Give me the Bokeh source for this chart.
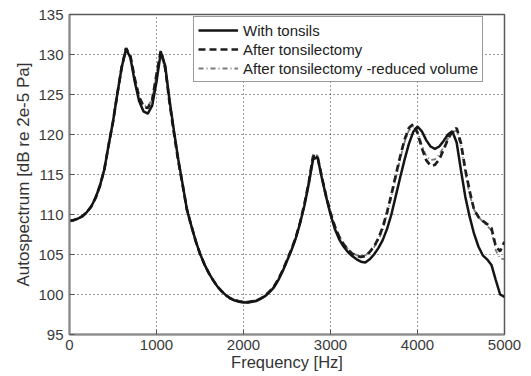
from bokeh.plotting import figure
from bokeh.models import Range1d, FixedTicker, Legend, LegendItem
from bokeh.embed import file_html
from bokeh.resources import INLINE

# ---- data ----
freq_hz = [0, 50, 100, 150, 200, 250, 300, 350, 400, 450,
           500, 550, 600, 650, 700, 750, 800, 850, 900, 950,
           1000, 1050, 1100, 1150, 1200, 1250, 1300, 1350, 1400, 1450,
           1500, 1550, 1600, 1650, 1700, 1750, 1800, 1850, 1900, 1950,
           2000, 2050, 2100, 2150, 2200, 2250, 2300, 2350, 2400, 2450,
           2500, 2550, 2600, 2650, 2700, 2750, 2800, 2850, 2900, 2950,
           3000, 3050, 3100, 3150, 3200, 3250, 3300, 3350, 3400, 3450,
           3500, 3550, 3600, 3650, 3700, 3750, 3800, 3850, 3900, 3950,
           4000, 4050, 4100, 4150, 4200, 4250, 4300, 4350, 4400, 4450,
           4500, 4550, 4600, 4650, 4700, 4750, 4800, 4850, 4900, 4950,
           5000]

with_tonsils = [109.2, 109.3, 109.5, 109.8, 110.3, 111.0, 112.1, 113.6, 115.6, 118.7,
                121.6, 125.1, 128.4, 130.7, 129.6, 126.6, 124.2, 122.9, 122.6, 123.6,
                126.6, 130.3, 128.6, 124.3, 120.5, 116.9, 113.8, 110.6, 108.6, 106.7,
                105.1, 103.8, 102.7, 101.8, 101.0, 100.4, 99.9, 99.5, 99.25, 99.1,
                99.0, 99.0, 99.1, 99.2, 99.5, 99.8, 100.3, 100.9, 101.8, 102.9,
                104.2, 105.5, 107.0, 108.9, 111.1, 113.8, 116.9, 117.2, 114.6, 112.2,
                110.0, 108.2, 106.9, 106.0, 105.3, 104.8, 104.4, 104.1, 104.0, 104.4,
                105.0, 105.8, 106.8, 108.2, 110.0, 112.3, 114.6, 116.8, 118.8, 120.3,
                121.0, 120.4, 119.3, 118.5, 118.2, 118.5, 119.2, 120.0, 120.4, 119.0,
                115.5, 112.2, 109.7, 107.6, 106.0, 104.9, 104.4, 103.7, 101.8, 100.0,
                99.7]

after_tonsillectomy = [109.2, 109.3, 109.5, 109.8, 110.3, 111.0, 112.1, 113.6, 115.6, 118.7,
                       121.6, 125.1, 128.4, 130.8, 129.8, 127.0, 124.7, 123.5, 123.3, 124.3,
                       127.5, 130.5, 128.3, 124.0, 120.2, 116.7, 113.7, 110.6, 108.6, 106.7,
                       105.1, 103.8, 102.7, 101.8, 101.0, 100.4, 99.9, 99.5, 99.3, 99.15,
                       99.05, 99.05, 99.15, 99.25, 99.5, 99.85, 100.4, 101.0, 101.9, 103.0,
                       104.3, 105.6, 107.1, 109.0, 111.3, 114.0, 117.3, 117.3, 114.7, 112.3,
                       110.2, 108.5, 107.2, 106.3, 105.6, 105.1, 104.8, 104.7, 104.8, 105.3,
                       106.0, 107.0, 108.4, 110.3, 112.5, 114.9, 117.2, 119.3, 120.8, 121.3,
                       120.2, 118.3, 116.8, 116.1, 116.2, 116.9, 118.1, 119.4, 120.4, 120.8,
                       118.9, 115.6, 112.9, 110.6, 109.7, 109.2, 108.8, 108.3, 106.0, 105.4,
                       106.6]

after_reduced_volume = [109.2, 109.3, 109.5, 109.8, 110.3, 111.0, 112.1, 113.6, 115.6, 118.7,
                        121.6, 125.1, 128.4, 130.6, 129.7, 127.0, 124.8, 123.7, 123.5, 124.4,
                        127.4, 130.1, 128.2, 124.0, 120.3, 116.8, 113.7, 110.6, 108.6, 106.7,
                        105.1, 103.8, 102.7, 101.8, 101.0, 100.4, 99.9, 99.5, 99.3, 99.2,
                        99.1, 99.1, 99.2, 99.3, 99.55, 99.9, 100.4, 101.0, 101.9, 103.0,
                        104.3, 105.6, 107.1, 109.0, 111.3, 114.1, 117.5, 117.4, 114.8, 112.4,
                        110.3, 108.6, 107.3, 106.4, 105.7, 105.2, 104.9, 104.8, 104.9, 105.3,
                        105.9, 106.8, 108.1, 110.0, 112.2, 114.6, 116.9, 119.0, 120.5, 121.0,
                        120.4, 118.7, 117.3, 116.8, 116.9, 117.5, 118.4, 119.5, 120.3, 120.5,
                        118.5, 115.2, 112.5, 110.6, 109.7, 109.1, 108.6, 108.0, 105.5, 104.5,
                        104.4]

x_ticks = [0, 1000, 2000, 3000, 4000, 5000]
y_ticks = [95, 100, 105, 110, 115, 120, 125, 130, 135]
series_labels = ["With tonsils", "After tonsilectomy",
                 "After tonsilectomy -reduced volume"]

FONT = "Liberation Sans"

p = figure(width=531, height=376, output_backend="svg", toolbar_location=None,
           x_range=Range1d(0, 5000), y_range=Range1d(95, 135),
           min_border_left=69, min_border_right=27, min_border_top=14,
           min_border_bottom=42)
p.background_fill_color = "white"
p.border_fill_color = "white"
p.outline_line_color = "#5a5a5a"
p.outline_line_width = 1.5

for ax, ticks in ((p.xaxis[0], x_ticks), (p.yaxis[0], y_ticks)):
    ax.ticker = FixedTicker(ticks=ticks)
    ax.major_label_text_font = FONT
    ax.major_label_text_font_size = "15px"
    ax.major_label_text_color = "#3a3a3a"
    ax.axis_line_color = "#8a8a8a"
    ax.axis_line_width = 2
    ax.major_tick_line_color = "#555555"
    ax.major_tick_in = 5
    ax.major_tick_out = 0
    ax.minor_tick_line_color = None
    ax.axis_label_text_font = FONT
    ax.axis_label_text_font_style = "normal"
    ax.axis_label_text_color = "#333333"

p.xaxis.axis_label = "Frequency [Hz]"
p.yaxis.axis_label = "Autospectrum [dB re 2e-5 Pa]"
p.xaxis.axis_label_text_font_size = "16.5px"
p.yaxis.axis_label_text_font_size = "17px"
p.xaxis.major_label_standoff = 5
p.yaxis.major_label_standoff = 6
p.xaxis.axis_label_standoff = 0
p.yaxis.axis_label_standoff = 2

p.xgrid.ticker = FixedTicker(ticks=x_ticks)
p.ygrid.ticker = FixedTicker(ticks=y_ticks)
for g in (p.xgrid, p.ygrid):
    g.grid_line_color = "#333333"
    g.grid_line_dash = "1 3"
    g.grid_line_width = 1
    g.grid_line_alpha = 1.0

r3 = p.line(freq_hz, after_reduced_volume, line_color="#7a7a7a", line_width=1.8,
            line_dash="5 3 1 3")
r2 = p.line(freq_hz, after_tonsillectomy, line_color="#1e1e1e", line_width=2.7,
            line_dash="7 4")
r1 = p.line(freq_hz, with_tonsils, line_color="#151515", line_width=2.5)

legend = Legend(items=[LegendItem(label=series_labels[0], renderers=[r1]),
                       LegendItem(label=series_labels[1], renderers=[r2]),
                       LegendItem(label=series_labels[2], renderers=[r3])],
                location=(124, 252))
legend.label_text_font = FONT
legend.label_text_font_size = "15px"
legend.label_text_color = "#222222"
legend.glyph_width = 40
legend.glyph_height = 18
legend.label_height = 18
legend.label_standoff = 5
legend.spacing = 1
legend.padding = 4
legend.margin = 0
legend.border_line_color = "#333333"
legend.border_line_width = 1
legend.background_fill_color = "white"
legend.background_fill_alpha = 1.0
p.add_layout(legend, "center")

open("out.html", "w").write(file_html(p, INLINE))
